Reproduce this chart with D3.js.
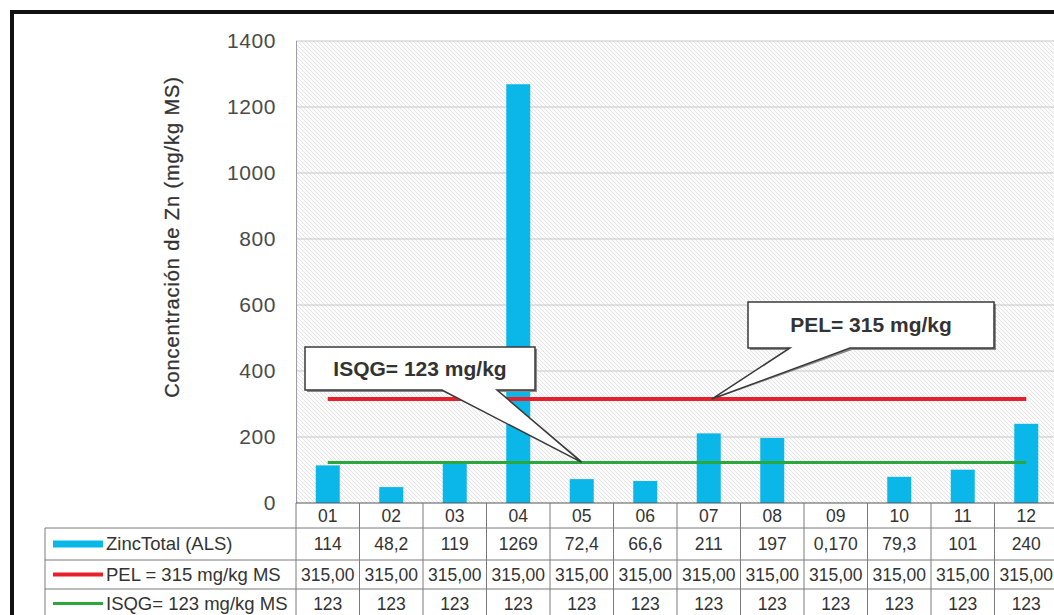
<!DOCTYPE html>
<html>
<head>
<meta charset="utf-8">
<script src="https://cdn.jsdelivr.net/npm/d3@7"></script>
<style>
  html, body { margin: 0; padding: 0; background: #fff; }
  svg { display: block; }
  text { font-family: "Liberation Sans", Arial, sans-serif; }
</style>
</head>
<body>
<svg id="chart" width="1054" height="615"></svg>
<script>
// ---- data ----
const categories = ["01","02","03","04","05","06","07","08","09","10","11","12"];
const zincValues = [114, 48.2, 119, 1269, 72.4, 66.6, 211, 197, 0.170, 79.3, 101, 240];
const zincLabels = ["114","48,2","119","1269","72,4","66,6","211","197","0,170","79,3","101","240"];
const pelValues = [315,315,315,315,315,315,315,315,315,315,315,315];
const pelLabels = ["315,00","315,00","315,00","315,00","315,00","315,00","315,00","315,00","315,00","315,00","315,00","315,00"];
const isqgValues = [123,123,123,123,123,123,123,123,123,123,123,123];
const isqgLabels = ["123","123","123","123","123","123","123","123","123","123","123","123"];
const yTicks = [0,200,400,600,800,1000,1200,1400];
const seriesNames = ["ZincTotal (ALS)", "PEL = 315 mg/kg MS", "ISQG= 123 mg/kg MS"];
const yTitle = "Concentración de Zn (mg/kg MS)";
const pelNote = "PEL= 315 mg/kg";
const isqgNote = "ISQG= 123 mg/kg";

// ---- layout ----
const svg = d3.select("#chart");
const plotL = 296, plotT = 41, plotB = 503, step = 63.5;
const x = d3.scaleBand().domain(categories).range([plotL, plotL + step * categories.length]).padding(0);
const y = d3.scaleLinear().domain([0, 1400]).range([plotB, plotT]);
const plotR = 1054;

const defs = svg.append("defs");
const pat = defs.append("pattern").attr("id","hatch").attr("patternUnits","userSpaceOnUse")
  .attr("width",4).attr("height",4);
pat.append("rect").attr("width",4).attr("height",4).attr("fill","#fcfcfc");
pat.append("path").attr("d","M-1,-1 L5,5 M-1,3 L1,5 M3,-1 L5,1").attr("stroke","#dedede").attr("stroke-width",0.8);

// outer frame
svg.append("rect").attr("x",12).attr("y",12).attr("width",1100).attr("height",700)
  .attr("fill","#fff").attr("stroke","#111").attr("stroke-width",4);

// plot background
svg.append("rect").attr("x",plotL).attr("y",plotT).attr("width",plotR - plotL).attr("height",plotB - plotT)
  .attr("fill","url(#hatch)");

// gridlines
svg.append("g").selectAll("line").data(yTicks.filter(d => d > 0)).join("line")
  .attr("x1",plotL).attr("x2",plotR).attr("y1",d => y(d)).attr("y2",d => y(d))
  .attr("stroke","#c8c8c8").attr("stroke-width",1);

// left border of plot
svg.append("line").attr("x1",plotL + 0.5).attr("x2",plotL + 0.5).attr("y1",plotT).attr("y2",plotB)
  .attr("stroke","#9a9ab0").attr("stroke-width",1);

// y axis
const yAxis = d3.axisLeft(y).tickValues(yTicks).tickFormat(d3.format("d")).tickSize(0).tickPadding(20);
const gy = svg.append("g").attr("transform",`translate(${plotL},0)`).call(yAxis);
gy.select(".domain").remove();
gy.selectAll("text").attr("font-size",21).attr("fill","#4a4a4a").attr("letter-spacing",0.6)
  .attr("font-family","'Liberation Sans', Arial, sans-serif");

// y title
svg.append("text").attr("transform","translate(179,237) rotate(-90)")
  .attr("text-anchor","middle").attr("font-size",20).attr("fill","#333")
  .attr("letter-spacing",0.9).attr("stroke","#333").attr("stroke-width",0.3)
  .text(yTitle);

// bars
const barW = 24;
svg.append("g").selectAll("rect").data(zincValues).join("rect")
  .attr("x",(d,i) => x(categories[i]) + x.bandwidth()/2 - barW/2)
  .attr("width",barW)
  .attr("y",d => y(d))
  .attr("height",d => plotB - y(d))
  .attr("fill","#0bb7e8");

// reference lines
const line = d3.line().x((d,i) => x(categories[i]) + x.bandwidth()/2).y(d => y(d));
svg.append("path").datum(pelValues).attr("d",line).attr("fill","none")
  .attr("stroke","#e8202a").attr("stroke-width",4);
svg.append("path").datum(isqgValues).attr("d",line).attr("fill","none")
  .attr("stroke","#2aa83c").attr("stroke-width",3);

// callouts
function callout(bx, by, bw, bh, p1, p2, tip, label) {
  const g = svg.append("g");
  g.append("path")
    .attr("d",`M${bx+2},${by+2} h${bw} v${bh} H${p2+2} L${tip[0]+2},${tip[1]} L${p1+2},${by+bh+2} H${bx+2} Z`)
    .attr("fill","#8a8a8a");
  g.append("path")
    .attr("d",`M${bx},${by} h${bw} v${bh} H${p2} L${tip[0]},${tip[1]} L${p1},${by+bh} H${bx} Z`)
    .attr("fill","#fff").attr("stroke","#3a3a3a").attr("stroke-width",1.5);
  g.append("text").attr("x",bx + bw/2).attr("y",by + bh/2 + 7).attr("text-anchor","middle")
    .attr("font-size",21).attr("font-weight","bold").attr("fill","#333").text(label);
}
const tipIsqg = [x("05") + x.bandwidth()/2, y(isqgValues[4])];
const tipPel = [x("07") + x.bandwidth()/2 + 3, y(pelValues[6])];
callout(305, 347, 230, 43, 442, 497, tipIsqg, isqgNote);
callout(748, 302, 246, 46, 790, 850, tipPel, pelNote);

// ---- data table ----
const tbl = svg.append("g");
const rowTops = [503, 528, 560, 589, 618];
const labelL = 45;
const gridColor = "#7a7a7a";
tbl.append("line").attr("x1",plotL).attr("x2",plotR).attr("y1",rowTops[0]).attr("y2",rowTops[0])
  .attr("stroke","#555").attr("stroke-width",1.2);
[1,2,3].forEach(r => {
  tbl.append("line").attr("x1",labelL).attr("x2",plotR).attr("y1",rowTops[r]).attr("y2",rowTops[r])
    .attr("stroke",gridColor).attr("stroke-width",1);
});
tbl.append("line").attr("x1",labelL).attr("x2",labelL).attr("y1",rowTops[1]).attr("y2",615)
  .attr("stroke",gridColor);
tbl.selectAll(".vl").data(categories).join("line").attr("class","vl")
  .attr("x1",d => x(d)).attr("x2",d => x(d)).attr("y1",rowTops[0]).attr("y2",615)
  .attr("stroke",gridColor);

const fs = 17.5;
tbl.selectAll(".hd").data(categories).join("text").attr("class","hd")
  .attr("x",d => x(d) + x.bandwidth()/2).attr("y",(rowTops[0]+rowTops[1])/2 + 6)
  .attr("text-anchor","middle").attr("font-size",fs).attr("fill","#333").text(d => d);

const rows = [
  {labels: zincLabels, color:"#0bb7e8", sw:7},
  {labels: pelLabels, color:"#e8202a", sw:4},
  {labels: isqgLabels, color:"#2aa83c", sw:3}
];
rows.forEach((r, ri) => {
  const cy = (rowTops[ri+1] + rowTops[ri+2]) / 2;
  tbl.append("line").attr("x1",53).attr("x2",103).attr("y1",cy).attr("y2",cy)
    .attr("stroke",r.color).attr("stroke-width",r.sw);
  tbl.append("text").attr("x",106).attr("y",cy + 6).attr("font-size",18.5).attr("fill","#333")
    .text(seriesNames[ri]);
  tbl.selectAll(".c"+ri).data(r.labels).join("text").attr("class","c"+ri)
    .attr("x",(d,i) => x(categories[i]) + x.bandwidth()/2).attr("y",cy + 6)
    .attr("text-anchor","middle").attr("font-size",fs).attr("fill","#333").text(d => d);
});
</script>
</body>
</html>
